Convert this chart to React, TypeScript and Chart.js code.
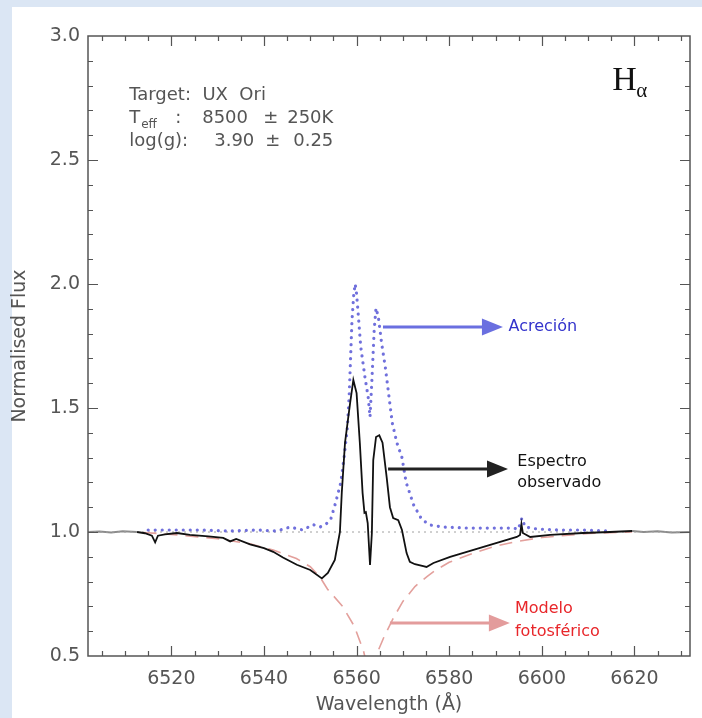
import React, { useEffect, useRef } from 'react';
import { Chart, registerables } from 'chart.js';

Chart.register(...registerables);

// ---- axis ranges & ticks ----
const X_MIN = 6502;
const X_MAX = 6632;
const Y_MIN = 0.5;
const Y_MAX = 3.0;
const X_TICKS = [6520, 6540, 6560, 6580, 6600, 6620];
const Y_TICKS = [0.5, 1.0, 1.5, 2.0, 2.5, 3.0];

// ---- observed spectrum (black) ----
const OBS_WAVE = [
  6512.6, 6514.3, 6515.8, 6516.5, 6517.1, 6518.6, 6521.2, 6524.0, 6528.0, 6531.2, 6532.7, 6534.0,
  6537.0, 6540.0, 6542.0, 6544.1, 6547.1, 6550.0, 6552.5, 6553.8, 6555.3, 6556.4, 6556.8, 6557.5,
  6558.6, 6559.3, 6560.0, 6560.7, 6561.3, 6561.7, 6562.0, 6562.4, 6562.9, 6563.3, 6563.6, 6564.2,
  6564.9, 6565.6, 6566.5, 6567.2, 6567.9, 6569.0, 6569.8, 6570.8, 6571.5, 6572.6, 6574.4, 6575.1,
  6576.6, 6580.2, 6583.8, 6587.4, 6591.0, 6594.6, 6595.3, 6595.6, 6595.9, 6597.5, 6601.8, 6608.9,
  6614.7, 6619.5,
];
const OBS_FLUX = [
  1.0, 0.995, 0.985, 0.958, 0.985, 0.99, 0.996, 0.988, 0.982, 0.976, 0.962, 0.972,
  0.95, 0.935, 0.92, 0.897, 0.868, 0.847, 0.813, 0.835, 0.887, 1.0, 1.157, 1.36,
  1.52, 1.613, 1.56, 1.36, 1.157, 1.077, 1.08, 1.036, 0.867, 0.996, 1.29, 1.383,
  1.39, 1.36, 1.22, 1.1, 1.056, 1.048, 1.008, 0.915, 0.88, 0.87, 0.862, 0.859,
  0.875, 0.9, 0.92, 0.94, 0.96, 0.98, 0.988, 1.032, 0.996, 0.98, 0.988, 0.996,
  1.0, 1.004,
];

// ---- accretion (blue dotted) ----
const ACC_WAVE = [
  6515.0, 6520.4, 6526.2, 6532.7, 6538.5, 6542.8, 6545.6, 6548.4, 6550.6, 6552.1, 6553.3, 6554.4,
  6555.5, 6556.6, 6557.3, 6558.0, 6558.4, 6558.7, 6559.0, 6559.4, 6559.7, 6560.0, 6560.4, 6560.9,
  6561.8, 6562.5, 6562.9, 6563.3, 6563.8, 6564.2, 6564.7, 6565.4, 6566.2, 6566.9, 6567.7, 6568.7,
  6569.8, 6570.7, 6572.3, 6574.1, 6575.9, 6578.7, 6583.8, 6589.5, 6593.9, 6594.9, 6595.7, 6596.4,
  6599.0, 6604.0, 6608.9, 6614.7,
];
const ACC_FLUX = [
  1.008, 1.008, 1.008, 1.004, 1.008, 1.004, 1.02, 1.008, 1.03, 1.02, 1.03, 1.05,
  1.12, 1.2, 1.3, 1.42, 1.55, 1.7, 1.85, 1.96, 2.0, 1.96, 1.867, 1.746,
  1.625, 1.544, 1.464, 1.61, 1.815, 1.903, 1.867, 1.762, 1.665, 1.56, 1.44, 1.36,
  1.3, 1.2, 1.11, 1.05, 1.028, 1.02, 1.016, 1.016, 1.016, 1.01, 1.056, 1.02,
  1.012, 1.008, 1.008, 1.004,
];

// ---- photospheric model (pink dashed) ----
const MODEL_WAVE = [
  6514.0, 6520.0, 6530.0, 6537.0, 6542.0, 6547.0, 6550.0, 6552.1, 6553.7, 6557.0, 6559.5, 6561.5,
  6563.0, 6564.4, 6566.0, 6568.0, 6570.0, 6572.6, 6575.2, 6577.0, 6580.0, 6585.0, 6590.0, 6595.0,
  6600.0, 6610.0, 6619.5,
];
const MODEL_FLUX = [
  0.998, 0.99, 0.973, 0.952, 0.927, 0.893, 0.86, 0.818, 0.77, 0.7, 0.62, 0.52,
  0.4, 0.51, 0.58, 0.655, 0.72, 0.78, 0.82, 0.845, 0.878, 0.913, 0.943, 0.963,
  0.978, 0.994, 1.0,
];

// ---- grey spectrum outside the modelled range ----
const EDGE_LEFT_WAVE = [6502.0, 6504.5, 6507.0, 6509.5, 6512.6];
const EDGE_LEFT_FLUX = [1.0, 1.002, 0.998, 1.003, 1.0];
const EDGE_RIGHT_WAVE = [6619.5, 6622.0, 6625.0, 6628.0, 6632.0];
const EDGE_RIGHT_FLUX = [1.004, 1.0, 1.003, 0.998, 1.0];

// ---- continuum reference ----
const CONT_WAVE = [X_MIN, X_MAX];
const CONT_FLUX = [1.0, 1.0];

const AXIS_COLOR = '#555555';
const TEXT_FONT = '"DejaVu Sans", sans-serif';

const toXY = (w: number[], f: number[]) => w.map((x, i) => ({ x, y: f[i] }));

const framePlugin = {
  id: 'idlFrame',
  afterDatasetsDraw(chart: any) {
    const { ctx, chartArea: a, scales } = chart;
    const xs = scales.x;
    const ys = scales.y;
    ctx.save();
    ctx.strokeStyle = AXIS_COLOR;
    ctx.lineWidth = 1.5;
    ctx.strokeRect(a.left, a.top, a.right - a.left, a.bottom - a.top);
    ctx.lineWidth = 1.2;
    ctx.beginPath();
    for (let v = Math.ceil(X_MIN / 5) * 5; v <= X_MAX; v += 5) {
      const p = Math.round(xs.getPixelForValue(v)) + 0.5;
      const len = v % 20 === 0 ? 10 : 5;
      ctx.moveTo(p, a.bottom);
      ctx.lineTo(p, a.bottom - len);
      ctx.moveTo(p, a.top);
      ctx.lineTo(p, a.top + len);
    }
    for (let k = Math.round(Y_MIN * 10) + 1; k < Math.round(Y_MAX * 10); k++) {
      const p = Math.round(ys.getPixelForValue(k / 10)) + 0.5;
      const len = k % 5 === 0 ? 10 : 5;
      ctx.moveTo(a.left, p);
      ctx.lineTo(a.left + len, p);
      ctx.moveTo(a.right, p);
      ctx.lineTo(a.right - len, p);
    }
    ctx.stroke();
    ctx.restore();
  },
  afterDraw(chart: any) {
    const { ctx, scales } = chart;
    const px = (v: number) => scales.x.getPixelForValue(v);
    const py = (v: number) => scales.y.getPixelForValue(v);
    ctx.save();

    // info block
    ctx.fillStyle = '#555555';
    ctx.textBaseline = 'alphabetic';
    ctx.textAlign = 'left';
    const x0 = px(6510.9);
    const b1 = py(2.742);
    const b2 = b1 + 23;
    const b3 = b2 + 23;
    ctx.font = `18px ${TEXT_FONT}`;
    ctx.fillText('Target:  UX  Ori', x0, b1);
    ctx.fillText('T', x0, b2);
    ctx.font = `12px ${TEXT_FONT}`;
    ctx.fillText('eff', x0 + 12, b2 + 5);
    ctx.font = `18px ${TEXT_FONT}`;
    ctx.fillText(':', x0 + 46, b2);
    ctx.fillText('8500', x0 + 73, b2);
    ctx.fillText('±', x0 + 134, b2);
    ctx.fillText('250K', x0 + 158, b2);
    ctx.fillText('log(g):', x0, b3);
    ctx.fillText('3.90', x0 + 85, b3);
    ctx.fillText('±', x0 + 136, b3);
    ctx.fillText('0.25', x0 + 164, b3);

    // H alpha
    ctx.fillStyle = '#111111';
    ctx.font = '34px "Liberation Serif", serif';
    const hx = px(6615.2);
    const hy = py(2.782);
    ctx.fillText('H', hx, hy);
    ctx.font = '21px "Liberation Serif", serif';
    ctx.fillText('α', hx + 24, hy + 7);

    // arrows
    const arrow = (w1: number, w2: number, f: number, color: string) => {
      const xa = px(w1);
      const xb = px(w2);
      const yy = py(f);
      ctx.strokeStyle = color;
      ctx.fillStyle = color;
      ctx.lineWidth = 3;
      ctx.beginPath();
      ctx.moveTo(xa, yy);
      ctx.lineTo(xb - 18, yy);
      ctx.stroke();
      ctx.beginPath();
      ctx.moveTo(xb, yy);
      ctx.lineTo(xb - 21, yy - 8.5);
      ctx.lineTo(xb - 21, yy + 8.5);
      ctx.closePath();
      ctx.fill();
    };
    arrow(6565.7, 6591.6, 1.827, '#6a6fe0');
    arrow(6566.8, 6592.7, 1.254, '#222222');
    arrow(6567.2, 6593.1, 0.633, '#e39c9c');

    ctx.font = `16px ${TEXT_FONT}`;
    ctx.textBaseline = 'middle';
    ctx.fillStyle = '#3333cc';
    ctx.fillText('Acreción', px(6592.8), py(1.827));
    ctx.fillStyle = '#111111';
    ctx.fillText('Espectro', px(6594.7), py(1.282));
    ctx.fillText('observado', px(6594.7), py(1.198));
    ctx.fillStyle = '#e8262a';
    ctx.fillText('Modelo', px(6594.2), py(0.69));
    ctx.fillText('fotosférico', px(6594.2), py(0.597));
    ctx.restore();
  },
};

export default function App() {
  const canvasRef = useRef<HTMLCanvasElement | null>(null);

  useEffect(() => {
    const canvas = canvasRef.current;
    if (!canvas) return;
    const line = (w: number[], f: number[], extra: any) => ({
      data: toXY(w, f),
      pointRadius: 0,
      tension: 0,
      fill: false,
      ...extra,
    });
    const chart = new Chart(canvas, {
      type: 'line',
      data: {
        datasets: [
          line(OBS_WAVE, OBS_FLUX, { label: 'Espectro observado', borderColor: '#111111', borderWidth: 1.8 }),
          line(ACC_WAVE, ACC_FLUX, {
            label: 'Acreción',
            borderColor: 'rgba(96,96,216,0.9)',
            borderWidth: 3.2,
            borderDash: [0.01, 7],
            borderCapStyle: 'round',
          }),
          line(MODEL_WAVE, MODEL_FLUX, {
            label: 'Modelo fotosférico',
            borderColor: '#e3a09c',
            borderWidth: 1.6,
            borderDash: [13, 8],
          }),
          line(CONT_WAVE, CONT_FLUX, { label: 'Continuo', borderColor: '#a0a0a0', borderWidth: 1, borderDash: [2, 4] }),
          line(EDGE_LEFT_WAVE, EDGE_LEFT_FLUX, { label: 'edge-l', borderColor: '#8c8c8c', borderWidth: 1.8 }),
          line(EDGE_RIGHT_WAVE, EDGE_RIGHT_FLUX, { label: 'edge-r', borderColor: '#8c8c8c', borderWidth: 1.8 }),
        ],
      },
      options: {
        animation: false,
        responsive: false,
        devicePixelRatio: 1,
        parsing: false as any,
        layout: { padding: { left: 0, top: 36, right: 12, bottom: 0 } },
        plugins: { legend: { display: false }, tooltip: { enabled: false } },
        scales: {
          x: {
            type: 'linear',
            min: X_MIN,
            max: X_MAX,
            grid: { display: false, drawTicks: false },
            border: { display: false },
            afterBuildTicks: (s: any) => {
              s.ticks = X_TICKS.map((v) => ({ value: v }));
            },
            afterFit: (s: any) => {
              s.height = 62;
            },
            ticks: {
              autoSkip: false,
              maxRotation: 0,
              padding: 12,
              color: '#555555',
              font: { size: 19, family: TEXT_FONT },
              callback: (v: any) => String(v),
            },
            title: {
              display: true,
              text: 'Wavelength (Å)',
              color: '#555555',
              font: { size: 19, family: TEXT_FONT },
              padding: { top: 0, bottom: 2 },
            },
          },
          y: {
            type: 'linear',
            min: Y_MIN,
            max: Y_MAX,
            grid: { display: false, drawTicks: false },
            border: { display: false },
            afterBuildTicks: (s: any) => {
              s.ticks = Y_TICKS.map((v) => ({ value: v }));
            },
            afterFit: (s: any) => {
              s.width = 88;
            },
            ticks: {
              padding: 8,
              color: '#555555',
              font: { size: 19, family: TEXT_FONT },
              callback: (v: any) => Number(v).toFixed(1),
            },
            title: {
              display: true,
              text: 'Normalised Flux',
              color: '#555555',
              font: { size: 19, family: TEXT_FONT },
              padding: { top: 9, bottom: 0 },
            },
          },
        },
      },
      plugins: [framePlugin],
    });
    return () => chart.destroy();
  }, []);

  return (
    <div style={{ position: 'fixed', left: 0, top: 0, width: 702, height: 718, background: '#dbe6f4' }}>
      <div style={{ position: 'absolute', left: 12, top: 7, right: 0, bottom: 0, background: '#ffffff' }} />
      <canvas
        ref={canvasRef}
        width={702}
        height={718}
        style={{ position: 'absolute', left: 0, top: 0, width: 702, height: 718 }}
      />
    </div>
  );
}
